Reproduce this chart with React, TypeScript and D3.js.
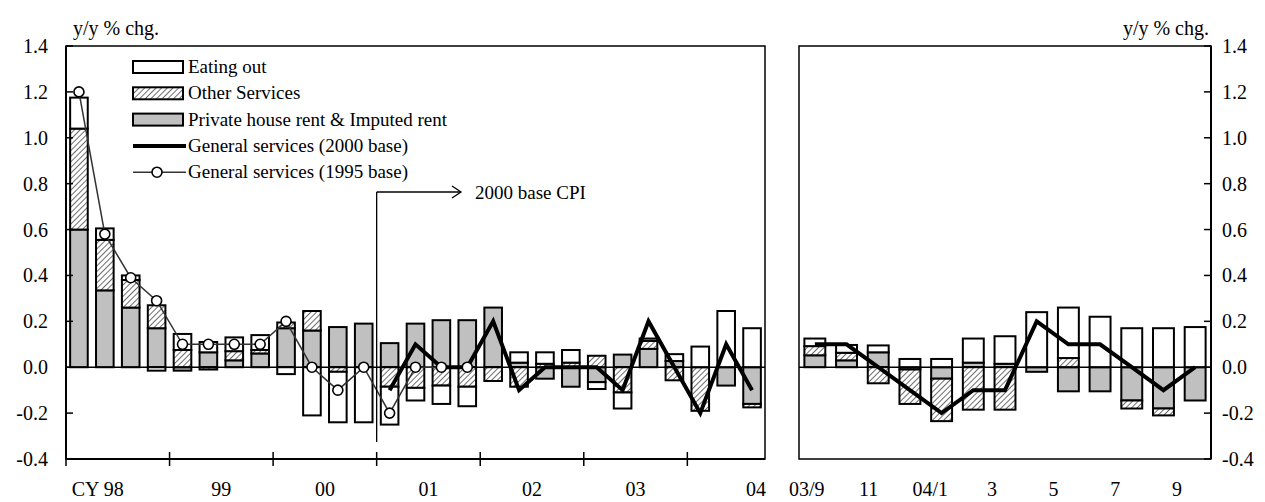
import React from "react";
import * as d3 from "d3";

// ---------- data ----------
const quarters = [
  "98Q1","98Q2","98Q3","98Q4","99Q1","99Q2","99Q3","99Q4","00Q1","00Q2","00Q3","00Q4",
  "01Q1","01Q2","01Q3","01Q4","02Q1","02Q2","02Q3","02Q4","03Q1","03Q2","03Q3","03Q4",
  "04Q1","04Q2","04Q3",
];
const rentL = [0.60, 0.335, 0.26, 0.17, -0.015, 0.065, 0.03, 0.06, 0.17, 0.16, 0.175, 0.19, 0.105, 0.19, 0.205, 0.205, 0.26, 0.02, -0.05, -0.085, -0.065, 0.055, 0.08, 0.027, 0, -0.08, -0.16];
const otherL = [0.44, 0.22, 0.12, 0.10, 0.075, -0.01, 0.04, 0.015, 0.025, 0.085, -0.02, 0, -0.085, -0.09, -0.08, -0.085, -0.06, -0.085, 0.015, 0.02, 0.05, -0.11, 0.035, -0.057, -0.19, 0, -0.015];
const eatingL = [0.135, 0.05, 0.02, -0.015, 0.07, 0.045, 0.06, 0.065, -0.03, -0.21, -0.22, -0.24, -0.165, -0.055, -0.08, -0.085, 0, 0.045, 0.05, 0.055, -0.03, -0.07, 0.01, 0.03, 0.09, 0.245, 0.17];
const gen1995L: (number | null)[] = [1.2, 0.58, 0.39, 0.29, 0.1, 0.1, 0.1, 0.1, 0.2, 0, -0.1, 0, -0.2, 0, 0, 0, null, null, null, null, null, null, null, null, null, null, null];
const gen2000L: (number | null)[] = [null, null, null, null, null, null, null, null, null, null, null, null, -0.1, 0.1, 0, 0, 0.2, -0.1, 0, 0, 0, -0.1, 0.2, 0, -0.2, 0.1, -0.1];
const yearLabels = ["CY  98", "99", "00", "01", "02", "03", "04"];

const months = ["03/9","03/10","03/11","03/12","04/1","04/2","04/3","04/4","04/5","04/6","04/7","04/8","04/9"];
const rentR = [0.052, 0.03, 0.065, -0.01, -0.05, 0.02, 0.015, -0.02, -0.105, -0.105, -0.145, -0.18, -0.145];
const otherR = [0.04, 0.033, -0.07, -0.15, -0.185, -0.185, -0.185, 0, 0.04, 0, -0.035, -0.03, 0];
const eatingR = [0.033, 0.034, 0.03, 0.036, 0.036, 0.105, 0.12, 0.24, 0.22, 0.22, 0.17, 0.17, 0.175];
const gen2000R = [0.1, 0.1, 0, -0.1, -0.2, -0.1, -0.1, 0.2, 0.1, 0.1, 0, -0.1, 0];
const monthLabels = ["03/9", "11", "04/1", "3", "5", "7", "9"];

const yTicks = [-0.4, -0.2, 0, 0.2, 0.4, 0.6, 0.8, 1.0, 1.2, 1.4];
const legendItems = ["Eating out", "Other Services", "Private house rent & Imputed rent", "General services (2000 base)", "General services (1995 base)"];

// ---------- layout ----------
const W = 1265, H = 502;
const top = 46, bottom = 459;
const L = { x0: 66, x1: 765 };
const R = { x0: 799, x1: 1211 };
const FONT = "'Liberation Serif', 'Times New Roman', serif";
const GRAY = "#c0c0c0";
const FS = 20;
const FS_LEG = 19;

const y = d3.scaleLinear().domain([-0.4, 1.4]).range([bottom, top]);
const xL = d3.scaleBand<number>().domain(d3.range(quarters.length)).range([L.x0, L.x1]).paddingInner(0.32).paddingOuter(0.16);
const xR = d3.scaleBand<number>().domain(d3.range(months.length)).range([R.x0, R.x1]).paddingInner(0.34).paddingOuter(0.17);

const keys = ["rent", "other", "eating"];
const fills: Record<string, string> = { rent: GRAY, other: "url(#hatch)", eating: "#ffffff" };

function stackData(rent: number[], other: number[], eating: number[]) {
  const rows = rent.map((_, i) => ({ i, rent: rent[i], other: other[i], eating: eating[i] }));
  return d3.stack<any>().keys(keys).offset(d3.stackOffsetDiverging)(rows);
}

function Bars({ series, x }: { series: any[]; x: d3.ScaleBand<number> }) {
  return (
    <g>
      {series.map((s) => (
        <g key={s.key}>
          {s.map((d: any, i: number) => {
            const v0 = d[0], v1 = d[1];
            if (Math.abs(v1 - v0) < 1e-9) return null;
            return (
              <rect key={i} x={x(i)} width={x.bandwidth()} y={y(Math.max(v0, v1))}
                height={Math.abs(y(v0) - y(v1))} fill={fills[s.key]} stroke="#000" strokeWidth={2} />
            );
          })}
        </g>
      ))}
    </g>
  );
}

export default function App() {
  const sL = stackData(rentL, otherL, eatingL);
  const sR = stackData(rentR, otherR, eatingR);
  const cx = (x: d3.ScaleBand<number>, i: number) => (x(i) as number) + x.bandwidth() / 2;

  const lineL = d3.line<number | null>().defined((d) => d != null).x((_, i) => cx(xL, i)).y((d) => y(d as number));
  const lineR = d3.line<number>().x((_, i) => cx(xR, i)).y((d) => y(d));

  const stepL = xL.step();
  const boundary = (i: number) => (xL(i) as number) - (stepL * xL.paddingInner()) / 2;
  const yearTickXs = [L.x0, ...d3.range(4, quarters.length, 4).map(boundary)];
  const yearLabelX = yearLabels.map((_, k) => {
    if (k === 0) return (L.x0 + boundary(4)) / 2 - 20;
    if (k === yearLabels.length - 1) return L.x1 - 9;
    return (boundary(4 * k) + boundary(4 * k + 4)) / 2;
  });

  const x2000 = boundary(12);
  const annY = 192;
  const labelY = 496;

  const legX = 133, legY0 = 67, legDy = 26.3;

  return (
    <svg width={W} height={H} style={{ position: "absolute", left: 0, top: 0, fontFamily: FONT }}>
      <defs>
        <pattern id="hatch" width="4" height="4" patternUnits="userSpaceOnUse" patternTransform="rotate(45)">
          <rect width="4" height="4" fill="#fff" />
          <line x1="0" y1="0" x2="0" y2="4" stroke="#6e6e6e" strokeWidth="2" />
        </pattern>
      </defs>
      <rect width={W} height={H} fill="#fff" />

      {/* Left panel */}
      <Bars series={sL} x={xL} />
      <line x1={L.x0} x2={L.x1} y1={y(0)} y2={y(0)} stroke="#000" strokeWidth={1.5} />
      <path d={lineL(gen1995L) || ""} fill="none" stroke="#333" strokeWidth={1.5} />
      <path d={lineL(gen2000L) || ""} fill="none" stroke="#000" strokeWidth={4} strokeLinejoin="miter" />
      {gen1995L.map((d, i) => d == null ? null : (
        <circle key={i} cx={cx(xL, i)} cy={y(d)} r={5} fill="#fff" stroke="#000" strokeWidth={1.6} />
      ))}
      <rect x={L.x0} y={top} width={L.x1 - L.x0} height={bottom - top} fill="none" stroke="#000" strokeWidth={1.5} />
      <line x1={L.x0} x2={L.x0} y1={top} y2={bottom} stroke="#000" strokeWidth={2} />
      <line x1={L.x0} x2={L.x1} y1={bottom} y2={bottom} stroke="#000" strokeWidth={2} />
      {yTicks.map((t) => (
        <g key={t}>
          <line x1={L.x0} x2={L.x0 + 7} y1={y(t)} y2={y(t)} stroke="#000" strokeWidth={1.5} />
          <text x={48} y={y(t) + 7} textAnchor="end" fontSize={FS}>{t.toFixed(1)}</text>
          <line x1={R.x1} x2={R.x1 - 7} y1={y(t)} y2={y(t)} stroke="#000" strokeWidth={1.5} />
          <text x={1222} y={y(t) + 7} textAnchor="start" fontSize={FS}>{t.toFixed(1)}</text>
        </g>
      ))}
      {yearTickXs.map((x, k) => (
        <line key={k} x1={x} x2={x} y1={bottom - 7} y2={bottom + 7} stroke="#000" strokeWidth={1.5} />
      ))}
      {yearLabels.map((lab, k) => (
        <text key={lab} x={yearLabelX[k]} y={labelY} textAnchor="middle" fontSize={FS}>{lab}</text>
      ))}
      <text x={73} y={35} fontSize={FS}>y/y % chg.</text>

      {/* annotation */}
      <line x1={x2000} x2={x2000} y1={annY} y2={442} stroke="#000" strokeWidth={1.3} />
      <line x1={x2000} x2={460} y1={annY} y2={annY} stroke="#000" strokeWidth={1.3} />
      <path d={`M${452},${annY - 6} L${461},${annY} L${452},${annY + 6}`} fill="none" stroke="#000" strokeWidth={1.3} />
      <text x={475} y={annY + 7} fontSize={FS_LEG}>2000 base CPI</text>

      {/* legend */}
      {legendItems.map((lab, k) => {
        const cy = legY0 + k * legDy;
        return (
          <g key={lab}>
            {k < 3 && <rect x={legX} y={cy - 6} width={50} height={12} fill={[fills.eating, fills.other, fills.rent][k]} stroke="#000" strokeWidth={2} />}
            {k === 3 && <line x1={legX} x2={legX + 53} y1={cy} y2={cy} stroke="#000" strokeWidth={4} />}
            {k === 4 && <>
              <line x1={legX} x2={legX + 53} y1={cy} y2={cy} stroke="#333" strokeWidth={1.5} />
              <circle cx={legX + 24} cy={cy} r={5} fill="#fff" stroke="#000" strokeWidth={1.6} />
            </>}
            <text x={legX + 55} y={cy + 6} fontSize={FS_LEG}>{lab}</text>
          </g>
        );
      })}

      {/* Right panel */}
      <Bars series={sR} x={xR} />
      <line x1={R.x0} x2={R.x1} y1={y(0)} y2={y(0)} stroke="#000" strokeWidth={1.5} />
      <path d={lineR(gen2000R) || ""} fill="none" stroke="#000" strokeWidth={4} />
      <rect x={R.x0} y={top} width={R.x1 - R.x0} height={bottom - top} fill="none" stroke="#000" strokeWidth={1.5} />
      <line x1={R.x1} x2={R.x1} y1={top} y2={bottom} stroke="#000" strokeWidth={2} />
      {monthLabels.map((lab, k) => (
        <text key={lab} x={cx(xR, k * 2) - 8 - k * 1.7} y={labelY} textAnchor="middle" fontSize={FS}>{lab}</text>
      ))}
      <text x={1209} y={35} textAnchor="end" fontSize={FS}>y/y % chg.</text>
    </svg>
  );
}
